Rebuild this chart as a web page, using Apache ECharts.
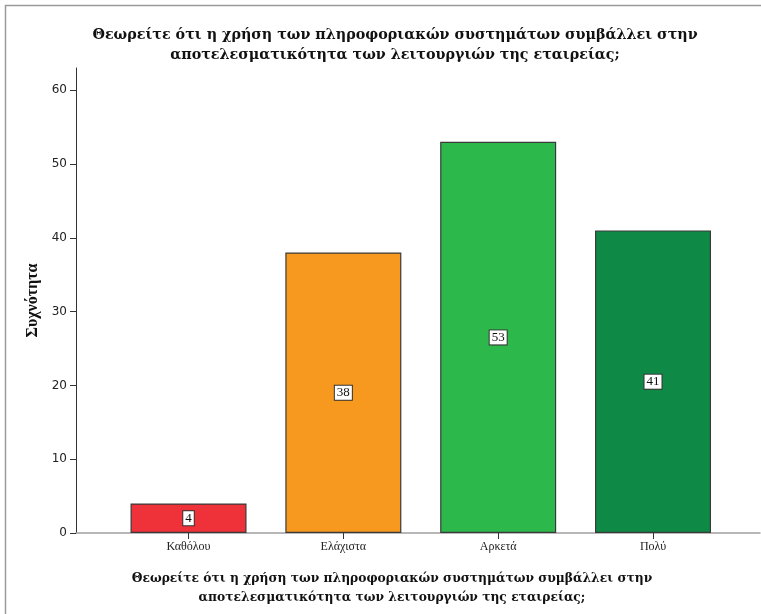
<!DOCTYPE html>
<html>
<head>
<meta charset="utf-8">
<script src="https://cdn.jsdelivr.net/npm/echarts@6/dist/echarts.min.js"></script>
<style>
  html, body { margin: 0; padding: 0; background: #fff; }
  #chart { width: 761px; height: 614px; }
</style>
</head>
<body>
<div id="chart"></div>
<script>
// Response categories and their frequencies
const categories = ['Καθόλου', 'Ελάχιστα', 'Αρκετά', 'Πολύ'];
const counts = [4, 38, 53, 41];
const barColors = ['#EF3139', '#F7991F', '#2DB84B', '#0E8A46'];
const yTicks = [0, 10, 20, 30, 40, 50, 60];

const questionLine1 = 'Θεωρείτε ότι η χρήση των πληροφοριακών συστημάτων συμβάλλει στην';
const questionLine2 = 'αποτελεσματικότητα των λειτουργιών της εταιρείας;';
const yName = 'Συχνότητα';

const serif = '"Liberation Serif", "DejaVu Serif", serif';
const wideSerif = '"DejaVu Serif", "Liberation Serif", serif';
const sans = '"DejaVu Sans", Verdana, sans-serif';

// Bars sit at positions 1..n on a numeric x scale
const barData = counts.map((v, i) => ({
  value: [i + 1, v],
  itemStyle: { color: barColors[i] }
}));
const catPositions = categories.map((_, i) => i + 1);

const chart = echarts.init(document.getElementById('chart'), null, { renderer: 'canvas' });
chart.setOption({
  animation: false,
  backgroundColor: '#fff',
  title: {
    text: questionLine1 + '\n' + questionLine2,
    left: 390,
    top: 20,
    textAlign: 'center',
    textStyle: {
      fontFamily: wideSerif,
      fontWeight: 'bold',
      fontSize: 14.3,
      lineHeight: 20,
      color: '#111'
    }
  },
  graphic: [
    { type: 'line', shape: { x1: 5, y1: 5.5, x2: 761, y2: 5.5 }, style: { stroke: '#9a9a9a', lineWidth: 1.5 } },
    { type: 'line', shape: { x1: 5.5, y1: 5, x2: 5.5, y2: 614 }, style: { stroke: '#9a9a9a', lineWidth: 1.5 } },
    {
      type: 'text',
      top: 569,
      style: {
        text: questionLine1 + '\n' + questionLine2,
        x: 392,
        textAlign: 'center',
        font: 'bold 12.3px ' + wideSerif,
        lineHeight: 19,
        fill: '#111'
      }
    }
  ],
  grid: { left: 76, right: 1, top: 68, bottom: 81 },
  xAxis: {
    type: 'value',
    min: 0.2733,
    max: 4.691,
    splitLine: { show: false },
    axisLine: { show: true, onZero: false, lineStyle: { color: '#a0a0a0', width: 1.5 } },
    axisTick: { show: true, customValues: catPositions, length: 6, lineStyle: { color: '#333' } },
    axisLabel: {
      customValues: catPositions,
      formatter: v => categories[Math.round(v) - 1] || '',
      fontFamily: serif,
      fontSize: 12,
      color: '#222',
      margin: 8
    }
  },
  yAxis: {
    type: 'value',
    min: 0,
    max: 63,
    interval: 10,
    name: yName,
    nameLocation: 'middle',
    nameGap: 34,
    nameTextStyle: { fontFamily: serif, fontWeight: 'bold', fontSize: 16, color: '#111' },
    splitLine: { show: false },
    axisLine: { show: true, lineStyle: { color: '#333', width: 1 } },
    axisTick: { show: true, customValues: yTicks, length: 6, lineStyle: { color: '#333' } },
    axisLabel: {
      customValues: yTicks,
      fontFamily: sans,
      fontSize: 12,
      color: '#222',
      margin: 9
    }
  },
  series: [{
    type: 'bar',
    data: barData,
    barWidth: 116,
    itemStyle: { borderColor: '#3a3a3a', borderWidth: 1.2 },
    label: {
      show: true,
      position: 'inside',
      formatter: p => String(p.value[1]),
      fontFamily: serif,
      fontSize: 13,
      color: '#111',
      backgroundColor: '#fff',
      borderColor: '#333',
      borderWidth: 1,
      padding: [1, 2, 0, 2]
    }
  }]
});
</script>
</body>
</html>
